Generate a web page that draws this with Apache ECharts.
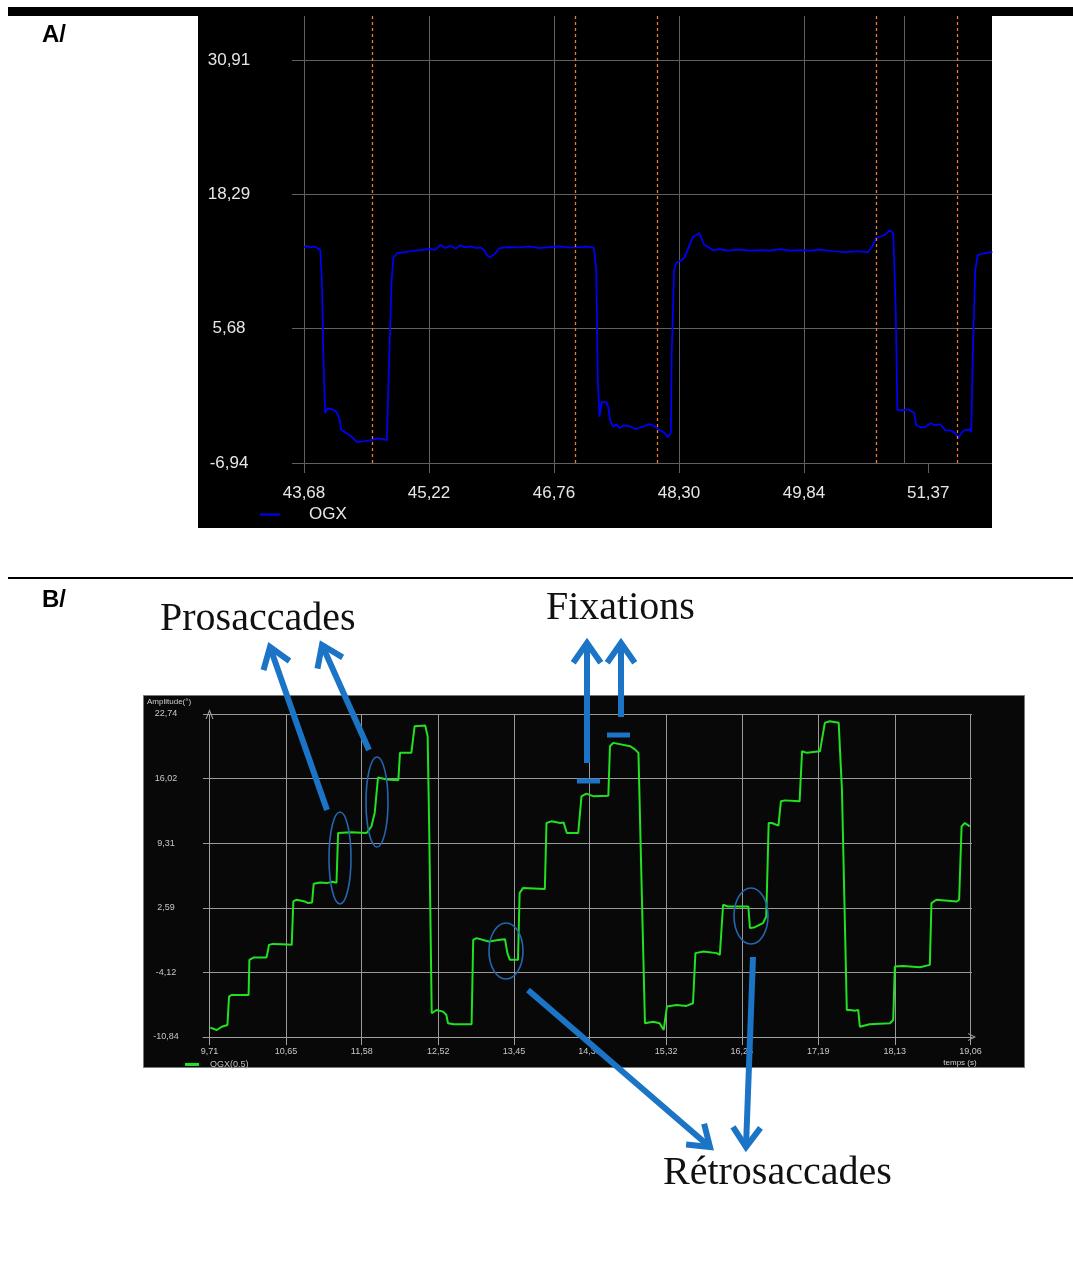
<!DOCTYPE html>
<html><head><meta charset="utf-8">
<script src="https://cdn.jsdelivr.net/npm/echarts@6/dist/echarts.min.js"></script>
<style>html,body{margin:0;padding:0;background:#fff}#c{width:1073px;height:1267px}</style>
</head><body><div id="c"></div>
<script>
// ---------- Panel A data ----------
const xTicksA = [43.68, 45.22, 46.76, 48.30, 49.84, 51.37];
const vGridA = [43.68, 45.22, 46.76, 48.30, 49.84, 51.08];
const yTicksA = [-6.94, 5.68, 18.29, 30.91];
const cursorsA = [44.52, 47.02, 48.03, 50.73, 51.73];
const ogxA = [
[43.68,13.34],[43.72,13.44],[43.76,13.30],[43.80,13.40],[43.84,13.28],[43.88,13.06],[43.90,10.24],[43.92,2.73],[43.94,-2.25],[43.97,-1.81],
[44.03,-1.90],[44.08,-2.13],[44.12,-2.91],[44.14,-3.85],[44.21,-4.16],[44.27,-4.48],[44.33,-4.95],[44.41,-4.90],[44.51,-4.79],[44.58,-4.63],
[44.65,-4.70],[44.70,-4.79],[44.72,-4.95],[44.74,5.54],[44.76,10.24],[44.78,12.31],[44.83,12.78],[44.92,12.87],[44.99,12.95],[45.11,13.06],
[45.20,13.15],[45.30,13.10],[45.36,13.53],[45.42,13.25],[45.48,13.45],[45.55,13.20],[45.60,13.50],[45.67,13.30],[45.73,13.40],[45.80,13.25],
[45.85,13.30],[45.90,13.06],[45.93,12.60],[45.97,12.40],[46.03,12.70],[46.09,13.25],[46.20,13.34],[46.34,13.30],[46.45,13.40],[46.59,13.25],
[46.70,13.34],[46.83,13.40],[46.95,13.30],[47.08,13.34],[47.17,13.38],[47.25,13.30],[47.28,11.18],[47.30,0.85],[47.32,-2.60],[47.35,-1.19],
[47.41,-1.25],[47.43,-1.78],[47.45,-2.91],[47.49,-3.54],[47.53,-3.30],[47.57,-3.66],[47.62,-3.40],[47.70,-3.50],[47.76,-3.75],[47.82,-3.60],
[47.88,-3.45],[47.94,-3.29],[48.00,-3.50],[48.06,-3.85],[48.12,-4.10],[48.16,-4.51],[48.20,-4.13],[48.21,3.38],[48.24,11.18],[48.27,11.89],
[48.33,12.10],[48.37,12.40],[48.42,13.34],[48.47,14.28],[48.52,14.50],[48.55,14.66],[48.58,14.10],[48.61,13.53],[48.66,13.35],[48.71,13.06],
[48.80,13.15],[48.90,13.00],[49.05,13.10],[49.18,13.00],[49.30,13.06],[49.42,13.00],[49.54,13.15],[49.67,13.00],[49.79,13.06],[49.92,13.00],
[50.04,13.10],[50.20,12.95],[50.35,12.87],[50.50,12.95],[50.63,12.87],[50.68,13.40],[50.73,14.19],[50.83,14.47],[50.90,14.94],[50.94,14.60],
[50.96,14.47],[50.97,7.42],[50.99,-1.97],[51.07,-1.97],[51.12,-1.90],[51.20,-2.25],[51.22,-3.38],[51.28,-3.60],[51.33,-3.57],[51.40,-3.20],
[51.45,-3.38],[51.52,-3.30],[51.58,-3.85],[51.65,-3.90],[51.70,-4.13],[51.74,-4.60],[51.78,-4.10],[51.82,-3.85],[51.88,-3.80],[51.90,-4.04],
[51.92,3.38],[51.95,11.18],[51.98,12.59],[52.07,12.78],[52.16,12.87]
];

// ---------- Panel B data ----------
const xTicksB = [9.71, 10.65, 11.58, 12.52, 13.45, 14.38, 15.32, 16.25, 17.19, 18.13, 19.06];
const yTicksB = [-10.84, -4.12, 2.59, 9.31, 16.02, 22.74];
const ogxB = [
[9.72,-9.87],[9.80,-10.11],[9.86,-9.77],[9.93,-9.59],[9.95,-6.64],[9.98,-6.47],[10.19,-6.47],[10.20,-2.82],[10.25,-2.58],[10.41,-2.58],
[10.43,-1.78],[10.44,-1.26],[10.49,-1.16],[10.60,-1.20],[10.72,-1.26],[10.74,3.25],[10.78,3.43],[10.88,3.25],[10.92,3.08],[10.97,3.14],
[10.99,5.09],[11.07,5.23],[11.15,5.16],[11.22,5.30],[11.27,5.20],[11.29,10.37],[11.31,10.54],[11.45,10.45],[11.64,10.37],[11.70,11.06],
[11.74,12.48],[11.78,16.13],[11.89,15.92],[12.03,15.85],[12.05,18.70],[12.19,18.70],[12.23,21.47],[12.36,21.54],[12.39,20.43],[12.41,10.37],
[12.44,-8.37],[12.50,-8.03],[12.58,-8.20],[12.62,-8.55],[12.64,-9.41],[12.71,-9.52],[12.93,-9.52],[12.95,-0.74],[12.99,-0.56],[13.14,-0.92],
[13.28,-0.74],[13.34,-0.67],[13.37,-2.12],[13.40,-2.82],[13.50,-2.82],[13.52,4.12],[13.56,4.64],[13.83,4.54],[13.85,11.41],[13.91,11.58],
[14.02,11.41],[14.06,11.47],[14.10,10.37],[14.24,10.37],[14.28,14.18],[14.34,14.46],[14.43,14.18],[14.61,14.25],[14.63,19.39],[14.67,19.74],
[14.88,19.39],[14.94,19.04],[14.98,18.70],[15.02,4.47],[15.06,-9.41],[15.16,-9.25],[15.24,-9.41],[15.29,-10.11],[15.33,-7.68],[15.45,-7.51],
[15.57,-7.61],[15.65,-7.33],[15.68,-2.12],[15.78,-1.96],[15.94,-2.12],[15.98,-2.30],[16.02,2.91],[16.08,2.73],[16.29,2.73],[16.33,2.73],
[16.35,0.48],[16.41,0.58],[16.51,1.00],[16.55,1.69],[16.58,11.41],[16.62,11.41],[16.70,11.13],[16.73,13.66],[16.78,13.76],[16.96,13.66],
[16.99,18.87],[17.05,18.70],[17.21,18.87],[17.27,21.82],[17.33,21.99],[17.44,21.82],[17.48,14.88],[17.54,-8.03],[17.58,-8.03],[17.64,-8.10],
[17.68,-8.03],[17.70,-9.77],[17.82,-9.52],[18.07,-9.41],[18.11,-9.07],[18.13,-3.52],[18.23,-3.45],[18.44,-3.58],[18.56,-3.34],[18.58,3.08],
[18.64,3.43],[18.89,3.25],[18.92,3.43],[18.95,11.06],[18.99,11.41],[19.05,11.06]
];

// ---------- helpers ----------
const fmt = v => v.toFixed(2).replace('.', ',');
const nearestLabel = arr => v => { for (const t of arr) { if (Math.abs(t - v) < 0.02) return fmt(t); } return ''; };
const BLUE = '#1b74c5';
const chevron = 'path://M0,10 L5,0 L10,10 L8.6,10 L5,3 L1.4,10 Z';

function arrow(x1, y1, x2, y2) {
  const dx = x2 - x1, dy = y2 - y1, L = Math.hypot(dx, dy), ux = dx / L, uy = dy / L;
  const a = 35 * Math.PI / 180, h = 24, c = Math.cos(a), s = Math.sin(a);
  const w1 = [x2 - h * (ux * c - uy * s), y2 - h * (ux * s + uy * c)];
  const w2 = [x2 - h * (ux * c + uy * s), y2 - h * (-ux * s + uy * c)];
  return [
    {type: 'line', z: 100, silent: true, shape: {x1: x1, y1: y1, x2: x2 - 2 * ux, y2: y2 - 2 * uy}, style: {stroke: BLUE, lineWidth: 6}},
    {type: 'polyline', z: 100, silent: true, shape: {points: [w1, [x2, y2], w2]}, style: {stroke: BLUE, lineWidth: 6, fill: null}}
  ];
}
function txt(x, y, text, font, fill, align) {
  return {type: 'text', z: 100, silent: true, x: x, y: y,
    style: {text: text, font: font, fill: fill, textAlign: align || 'left', align: align || 'left', textVerticalAlign: 'middle', verticalAlign: 'middle'}};
}
function ell(cx, cy, rx, ry) {
  return {type: 'ellipse', z: 100, silent: true, shape: {cx: cx, cy: cy, rx: rx, ry: ry}, style: {stroke: '#2566b0', lineWidth: 1.6, fill: null}};
}

const graphics = [
  {type: 'rect', z: -10, silent: true, shape: {x: 8, y: 7, width: 1065, height: 9}, style: {fill: '#000'}},
  {type: 'rect', z: -10, silent: true, shape: {x: 198, y: 16, width: 794, height: 512}, style: {fill: '#000'}},
  {type: 'rect', z: -10, silent: true, shape: {x: 8, y: 577, width: 1065, height: 2}, style: {fill: '#000'}},
  {type: 'rect', z: -10, silent: true, shape: {x: 143.5, y: 695.5, width: 881, height: 372}, style: {fill: '#080808', stroke: '#7a7a7a', lineWidth: 1}},
  txt(42, 35, 'A/', 'bold 24px "Liberation Sans"', '#000'),
  txt(42, 600, 'B/', 'bold 24px "Liberation Sans"', '#000'),
  txt(160, 619, 'Prosaccades', '40px "Liberation Serif"', '#111'),
  txt(546, 608, 'Fixations', '40px "Liberation Serif"', '#111'),
  txt(663, 1173, 'Rétrosaccades', '40px "Liberation Serif"', '#111'),
  txt(147, 702, 'Amplitude(°)', '8px "Liberation Sans"', '#d0d0d0'),
  txt(960, 1063, 'temps (s)', '8px "Liberation Sans"', '#d0d0d0', 'center'),
  ell(340, 858, 11, 46), ell(377, 802, 11, 45), ell(506, 951, 17, 28), ell(751, 916, 17, 28),
  {type: 'line', z: 100, silent: true, shape: {x1: 577, y1: 781, x2: 600, y2: 781}, style: {stroke: BLUE, lineWidth: 5}},
  {type: 'line', z: 100, silent: true, shape: {x1: 607, y1: 735, x2: 630, y2: 735}, style: {stroke: BLUE, lineWidth: 5}}
].concat(
  arrow(327, 810, 270, 647), arrow(369, 750, 322, 645),
  arrow(587, 763, 587, 643), arrow(621, 717, 621, 643),
  arrow(528, 990, 710, 1147), arrow(753, 957, 746, 1147)
);

const chart = echarts.init(document.getElementById('c'));
chart.setOption({
  animation: false,
  backgroundColor: '#fff',
  legend: [
    {data: ['OGX'], left: 255, top: 501, icon: 'rect', itemWidth: 20, itemHeight: 2, selectedMode: false,
     textStyle: {color: '#e8e8e8', fontSize: 17, fontFamily: 'Liberation Sans', padding: [0, 0, 0, 24]}},
    {data: ['OGX(0.5)'], left: 180, top: 1055, icon: 'rect', itemWidth: 14, itemHeight: 3, selectedMode: false,
     textStyle: {color: '#c0c0c0', fontSize: 9, fontFamily: 'Liberation Sans', padding: [0, 0, 0, 6]}}
  ],
  grid: [
    {left: 292, top: 16, width: 700, height: 447, containLabel: false},
    {left: 203, top: 714, width: 769, height: 323, containLabel: false}
  ],
  xAxis: [
    {type: 'value', gridIndex: 0, min: 43.532, max: 52.156,
     axisLine: {show: false, onZero: false},
     axisTick: {show: true, length: 10, customValues: xTicksA, lineStyle: {color: '#606060'}},
     axisLabel: {customValues: xTicksA, formatter: nearestLabel(xTicksA), color: '#e6e6e6', fontSize: 17, fontFamily: 'Liberation Sans', margin: 22},
     splitLine: {show: false}},
    {type: 'value', gridIndex: 1, min: 9.630, max: 19.078,
     axisLine: {show: true, onZero: false, symbol: ['none', chevron], symbolSize: [8, 10], lineStyle: {color: '#a0a0a0', width: 1}},
     axisTick: {show: true, length: 8, customValues: xTicksB, lineStyle: {color: '#a0a0a0'}},
     axisLabel: {customValues: xTicksB, formatter: nearestLabel(xTicksB), color: '#c8c8c8', fontSize: 9, fontFamily: 'Liberation Sans', margin: 10},
     splitLine: {show: false}}
  ],
  yAxis: [
    {type: 'value', gridIndex: 0, min: yTicksA[0], max: 35.044, interval: (yTicksA[3] - yTicksA[0]) / 3,
     axisLine: {show: false}, axisTick: {show: false},
     axisLabel: {formatter: nearestLabel(yTicksA), showMaxLabel: false, color: '#e6e6e6', fontSize: 17, fontFamily: 'Liberation Sans', align: 'center', margin: 63},
     splitLine: {show: true, showMaxLine: false, lineStyle: {color: '#606060', width: 1}}},
    {type: 'value', gridIndex: 1, min: yTicksB[0], max: yTicksB[5], interval: (yTicksB[5] - yTicksB[0]) / 5,
     axisLine: {show: false}, axisTick: {show: false},
     axisLabel: {formatter: nearestLabel(yTicksB), color: '#c8c8c8', fontSize: 9, fontFamily: 'Liberation Sans', align: 'center', margin: 37},
     splitLine: {show: true, lineStyle: {color: '#9a9a9a', width: 1}}}
  ],
  series: [
    {name: 'OGX', type: 'line', xAxisIndex: 0, yAxisIndex: 0, data: ogxA, showSymbol: false, z: 3,
     itemStyle: {color: '#0000ff'}, lineStyle: {color: '#0000ff', width: 1.7},
     markLine: {silent: true, z: 1, symbol: ['none', 'none'], label: {show: false}, emphasis: {disabled: true},
       lineStyle: {color: '#606060', type: 'solid', width: 1},
       data: vGridA.map(v => ({xAxis: v}))}},
    {type: 'line', xAxisIndex: 0, yAxisIndex: 0, data: [], z: 4,
     markLine: {silent: true, z: 4, symbol: ['none', 'none'], label: {show: false}, emphasis: {disabled: true},
       lineStyle: {color: '#f07a2c', type: [3, 3], width: 1.3},
       data: cursorsA.map(v => ({xAxis: v}))}},
    {name: 'OGX(0.5)', type: 'line', xAxisIndex: 1, yAxisIndex: 1, data: ogxB, showSymbol: false, z: 3,
     itemStyle: {color: '#22e022'}, lineStyle: {color: '#22e022', width: 2},
     markLine: {silent: true, z: 1, symbol: ['none', 'none'], label: {show: false}, emphasis: {disabled: true},
       lineStyle: {color: '#9a9a9a', type: 'solid', width: 1},
       data: xTicksB.slice(1).map(v => ({xAxis: v}))}},
    {type: 'line', xAxisIndex: 1, yAxisIndex: 1, data: [], z: 1,
     markLine: {silent: true, z: 1, symbol: ['none', chevron], symbolSize: [8, 10], label: {show: false}, emphasis: {disabled: true},
       lineStyle: {color: '#a0a0a0', type: 'solid', width: 1},
       data: [{xAxis: xTicksB[0]}]}}
  ],
  graphic: graphics
});
</script></body></html>
